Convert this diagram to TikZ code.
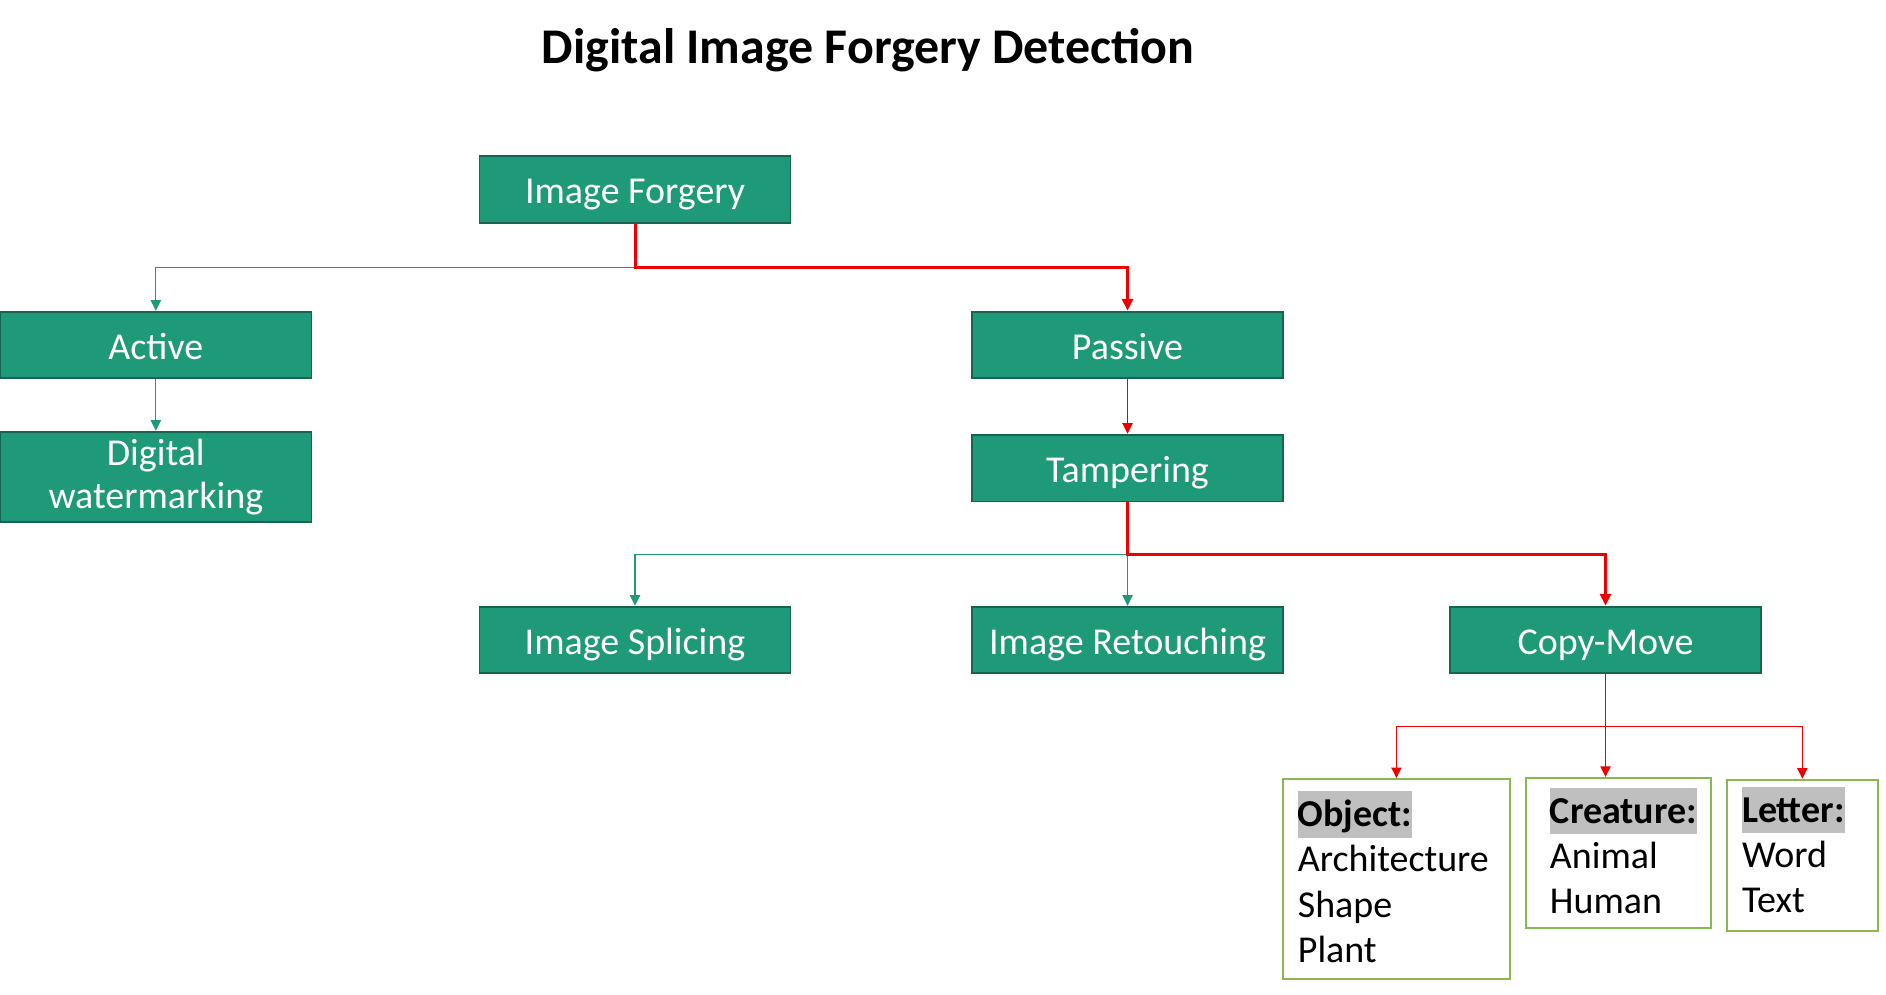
\documentclass[tikz,border=0pt]{standalone}
\usepackage{fontspec}
\setmainfont{Carlito}
\usetikzlibrary{positioning,arrows.meta}

\definecolor{boxgreen}{RGB}{31,154,120}
\definecolor{boxedge}{RGB}{24,100,78}
\definecolor{catedge}{RGB}{134,186,80}
\definecolor{hlgray}{RGB}{191,191,191}
\definecolor{arrowred}{RGB}{238,0,0}

\newcommand{\hlword}[1]{{\setlength{\fboxsep}{0pt}\colorbox{hlgray}{\rule[-3pt]{0pt}{13.1pt}\textbf{#1}}}}

\begin{document}
\begin{tikzpicture}[
    x=0.01cm, y=-0.01cm,
    gbox/.style={
        rectangle, fill=boxgreen, draw=boxedge, line width=0.5pt,
        minimum width=3.11cm, minimum height=0.667cm,
        text=white, align=center, inner sep=2pt,
        text height=8pt, text depth=0pt,
        font=\fontsize{10.8}{12.3}\selectfont
    },
    catbox/.style={
        rectangle, draw=catedge, line width=0.6pt,
        align=left, inner ysep=2pt, inner xsep=0.15cm,
        font=\fontsize{10.8}{12.8}\selectfont
    },
    tealline/.style={draw=boxgreen, line width=0.35pt,
        -{Triangle[length=3pt,width=2.9pt]}},
    redline/.style={draw=arrowred, line width=0.85pt,
        -{Triangle[length=3.4pt,width=3.1pt]}},
    redthin/.style={draw=arrowred, line width=0.4pt,
        -{Triangle[length=3pt,width=2.9pt]}}
]
\useasboundingbox (0,0) rectangle (1886,995);

%% Title
\node[font=\fontsize{14.2}{16}\selectfont\bfseries, anchor=base]
    (title) at (868,63.5) {Digital Image Forgery Detection};

%% Green boxes
\node[gbox] (forgery) at (635,189.3) {Image Forgery};
\node[gbox] (active) at (155.8,345) {Active};
\node[gbox] (passive) at (1127.5,345) {Passive};
\node[gbox, text height={}, text depth={}, minimum height=0.883cm,
      below=0.515cm of active]
    (watermark) {Digital\\watermarking};
\node[gbox, below=0.545cm of passive] (tamper) {Tampering};
\node[gbox] (splicing) at (635,640) {Image Splicing};
\node[gbox] (retouch) at (1127.5,640) {Image Retouching};
\node[gbox] (copymove) at (1605.5,640) {Copy-Move};

%% Copy-move categories
\node[catbox, text width=1.97cm, text depth=39.8pt, minimum height=2.0cm]
    (object) at (1396.4,879.2)
    {\hlword{Object:}\\Architecture\\Shape\\Plant};
\node[catbox, text width=1.37cm, inner xsep=0.24cm, text depth=27pt,
      minimum height=1.5cm]
    (creature) at (1618.5,853)
    {\hlword{Creature:}\\Animal\\Human};
\node[catbox, text width=1.205cm, text depth=29pt, minimum height=1.51cm]
    (letter) at (1802.3,855.5)
    {\hlword{Letter:}\\Word\\Text};

%% Junction points
\coordinate (j1) at (635,267.7);
\coordinate (j2) at (1127.5,554.7);
\coordinate (j3) at (1605.5,726.7);

%% Connectors
\draw[tealline] (j1) -| (active.north);
\draw[redline] (forgery.south) -- (j1) -| (passive.north);
\draw[tealline] (active) -- (watermark);
\draw[redthin] (passive) -- (tamper);

\draw[tealline] (j2) -| (splicing.north);
\draw[tealline] (j2) -- (retouch.north);
\draw[redline] (tamper.south) -- (j2) -| (copymove.north);

\draw[redthin] (copymove.south) -- (j3) -| (object.north);
\draw[redthin] (j3) -- (j3 |- creature.north);
\draw[redthin] (j3) -| (letter.north);

\end{tikzpicture}
\end{document}
